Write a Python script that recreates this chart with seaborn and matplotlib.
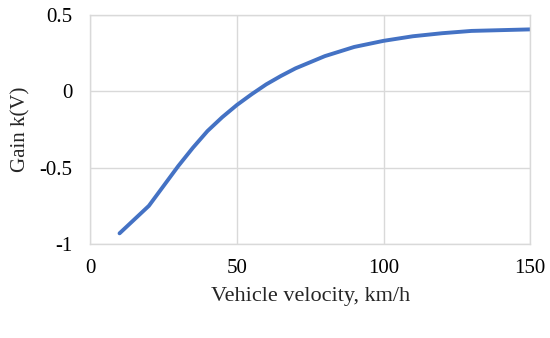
import matplotlib
matplotlib.use("Agg")
import matplotlib.pyplot as plt
import seaborn as sns
import pandas as pd

# values
velocity = [10, 15, 20, 25, 30, 35, 40, 45, 50, 55, 60, 65, 70, 75, 80, 85, 90, 95,
            100, 110, 120, 130, 140, 150]
gain = [-0.93, -0.84, -0.75, -0.62, -0.49, -0.37, -0.26, -0.17, -0.09, -0.02, 0.045, 0.10,
        0.15, 0.19, 0.23, 0.26, 0.29, 0.31, 0.33, 0.36, 0.38, 0.395, 0.40, 0.405]

df = pd.DataFrame({"velocity": velocity, "gain": gain})

sns.set_style("whitegrid")
plt.rcParams['font.family'] = ['Liberation Serif', 'DejaVu Serif']

fig = plt.figure(figsize=(5.5, 3.38), dpi=100)
ax = fig.add_axes([0.164, 0.278, 0.8, 0.678])

sns.lineplot(data=df, x="velocity", y="gain", color="#4472C4", linewidth=2.8, ax=ax)

ax.set_xlim(0, 150)
ax.set_ylim(-1, 0.5)
ax.set_xticks([0, 50, 100, 150])
ax.set_yticks([-1, -0.5, 0, 0.5])
ax.set_yticklabels(["-1", "-0.5", "0", "0.5"])
ax.grid(True, color="#d9d9d9", linewidth=1)
for s in ax.spines.values():
    s.set_color("#d9d9d9")
    s.set_linewidth(1)
ax.tick_params(axis="both", labelsize=15, length=0, colors="black")
ax.tick_params(axis="x", pad=11)
ax.tick_params(axis="y", pad=13)
ax.set_xlabel("Vehicle velocity, km/h", fontsize=16, labelpad=6)
ax.set_ylabel("Gain k(V)", fontsize=15, labelpad=6)

fig.savefig("out.png", dpi=100)
